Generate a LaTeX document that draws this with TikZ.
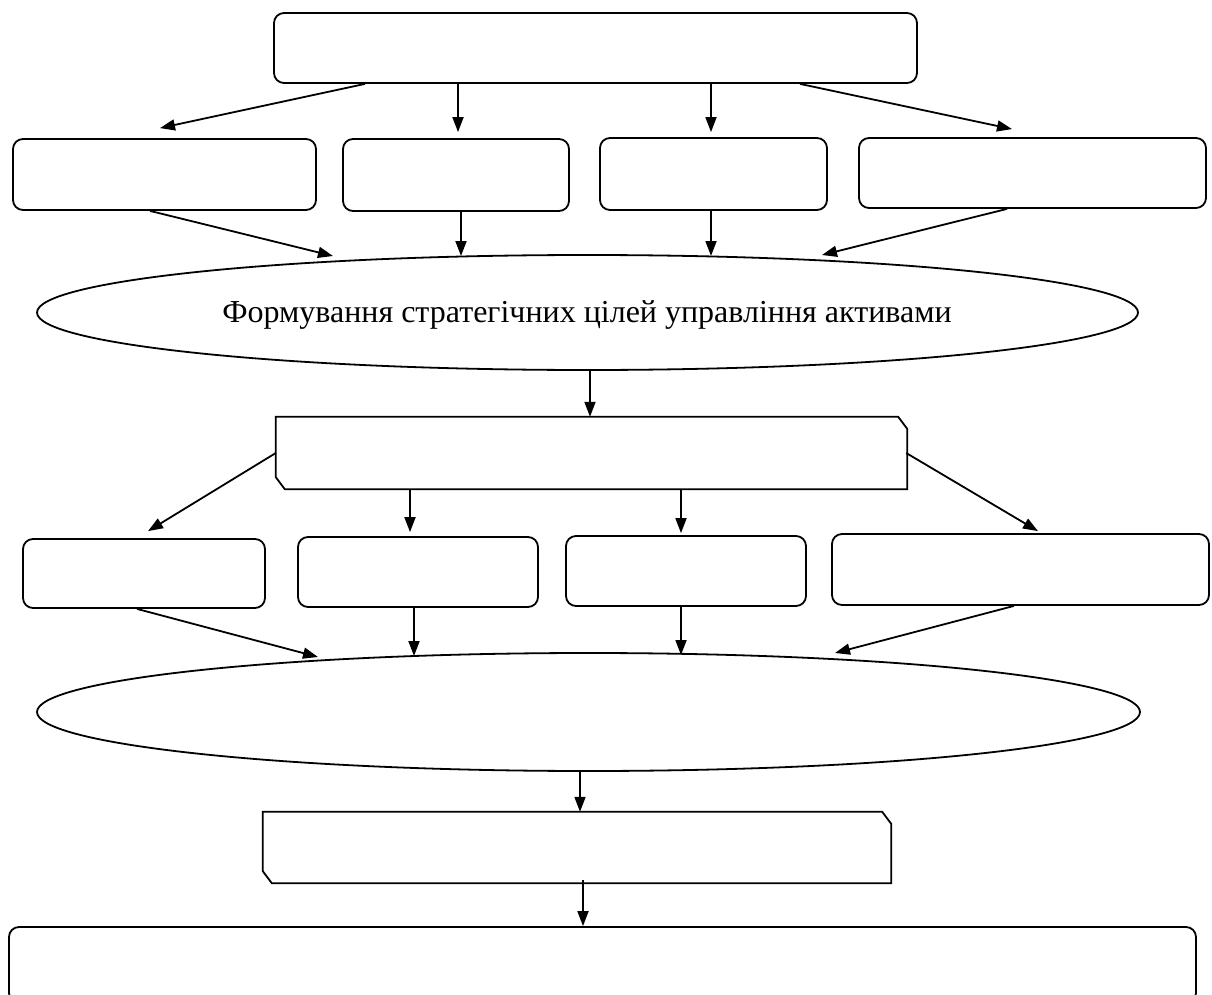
\documentclass[tikz,border=0pt]{standalone}
\usepackage{fontspec}
\setmainfont{Liberation Serif}
\usetikzlibrary{shapes.geometric,arrows.meta}
\begin{document}
\begin{tikzpicture}[x=1pt,y=-1pt,
  rbox/.style={draw,line width=1.8pt,rounded corners=10pt,inner sep=0pt},
  pbox/.style={draw=none,inner sep=0pt},
  oval/.style={draw,ellipse,line width=1.8pt,inner sep=0pt},
  chline/.style={line width=1.8pt},
  arr/.style={line width=1.8pt,-{Triangle[length=15pt,width=11pt]}}]
\useasboundingbox (0,0) rectangle (1212,995);
% top
\node[rbox,minimum width=643pt,minimum height=70pt] (top) at (595.5,48) {};
% row 1
\node[rbox,minimum width=303pt,minimum height=71pt] (A) at (164.5,174.5) {};
\node[rbox,minimum width=226pt,minimum height=72pt] (B) at (456,175) {};
\node[rbox,minimum width=227pt,minimum height=72pt] (C) at (713.5,174) {};
\node[rbox,minimum width=347pt,minimum height=70pt] (D) at (1032.5,173) {};
% ellipse 1
\node[oval,minimum width=1101pt,minimum height=115pt] (e1) at (587.5,312.5) {};
\node[pbox] (t1) at (587,315)
  {\fontsize{32}{36}\selectfont Формування стратегічних цілей управління активами};
% chamfered box 1
\node[pbox,minimum width=631pt,minimum height=72pt] (c1) at (591.5,453) {};
\draw[chline] (c1.north west) -- ([xshift=-9pt]c1.north east) -- ([yshift=-12pt]c1.north east)
  -- (c1.south east) -- ([xshift=9pt]c1.south west) -- ([yshift=12pt]c1.south west) -- cycle;
% row 2
\node[rbox,minimum width=242pt,minimum height=69pt] (E) at (144,573.5) {};
\node[rbox,minimum width=240pt,minimum height=70pt] (F) at (418,572) {};
\node[rbox,minimum width=240pt,minimum height=70pt] (G) at (686,571) {};
\node[rbox,minimum width=377pt,minimum height=71pt] (H) at (1020.5,569.5) {};
% ellipse 2
\node[oval,minimum width=1103pt,minimum height=118pt] (e2) at (588.5,712) {};
% chamfered box 2
\node[pbox,minimum width=628pt,minimum height=71pt] (c2) at (577,847.5) {};
\draw[chline] (c2.north west) -- ([xshift=-9pt]c2.north east) -- ([yshift=-12pt]c2.north east)
  -- (c2.south east) -- ([xshift=9pt]c2.south west) -- ([yshift=12pt]c2.south west) -- cycle;
% bottom
\node[rbox,minimum width=1187pt,minimum height=76pt] (bot) at (602.5,965) {};
% arrows top -> row 1
\draw[arr] ([xshift=-230.5pt]top.south) -- ([xshift=-4.5pt,yshift=10pt]A.north);
\draw[arr] ([xshift=-137.5pt]top.south) -- ([xshift=2pt,yshift=6pt]B.north);
\draw[arr] ([xshift=115.5pt]top.south) -- ([xshift=-2.5pt,yshift=5pt]C.north);
\draw[arr] ([xshift=204.5pt]top.south) -- ([xshift=-20.5pt,yshift=8pt]D.north);
% row 1 -> e1
\draw[arr] ([xshift=-14.5pt]A.south) -- ([xshift=-254.5pt,yshift=56.5pt]e1.center);
\draw[arr] ([xshift=5pt]B.south) -- ([xshift=-126.5pt,yshift=56.5pt]e1.center);
\draw[arr] ([xshift=-2.5pt]C.south) -- ([xshift=123.5pt,yshift=56.5pt]e1.center);
\draw[arr] ([xshift=-25.5pt]D.south) -- ([xshift=234.5pt,yshift=57.5pt]e1.center);
% e1 -> c1
\draw[arr] ([xshift=2.5pt]e1.south) -- ([xshift=-1.5pt]c1.north);
% c1 -> row 2
\draw[arr] (c1.west) -- ([xshift=4pt,yshift=7pt]E.north);
\draw[arr] ([xshift=-181.5pt]c1.south) -- ([xshift=-8pt,yshift=4pt]F.north);
\draw[arr] ([xshift=89.5pt]c1.south) -- ([xshift=-5pt,yshift=2pt]G.north);
\draw[arr] ([xshift=-1pt]c1.east) -- ([xshift=17.5pt,yshift=2pt]H.north);
% row 2 -> e2
\draw[arr] ([xshift=-7pt]E.south) -- ([xshift=-270.5pt,yshift=55pt]e2.center);
\draw[arr] ([xshift=-4pt]F.south) -- ([xshift=-174.5pt,yshift=56pt]e2.center);
\draw[arr] ([xshift=-5pt]G.south) -- ([xshift=92.5pt,yshift=57pt]e2.center);
\draw[arr] ([xshift=-6.5pt]H.south) -- ([xshift=246.5pt,yshift=59pt]e2.center);
% e2 -> c2
\draw[arr] ([xshift=-8.5pt]e2.south) -- ([xshift=3pt]c2.north);
% c2 -> bottom
\draw[arr] ([xshift=6pt,yshift=3pt]c2.south) -- ([xshift=-19.5pt]bot.north);
\end{tikzpicture}
\end{document}
